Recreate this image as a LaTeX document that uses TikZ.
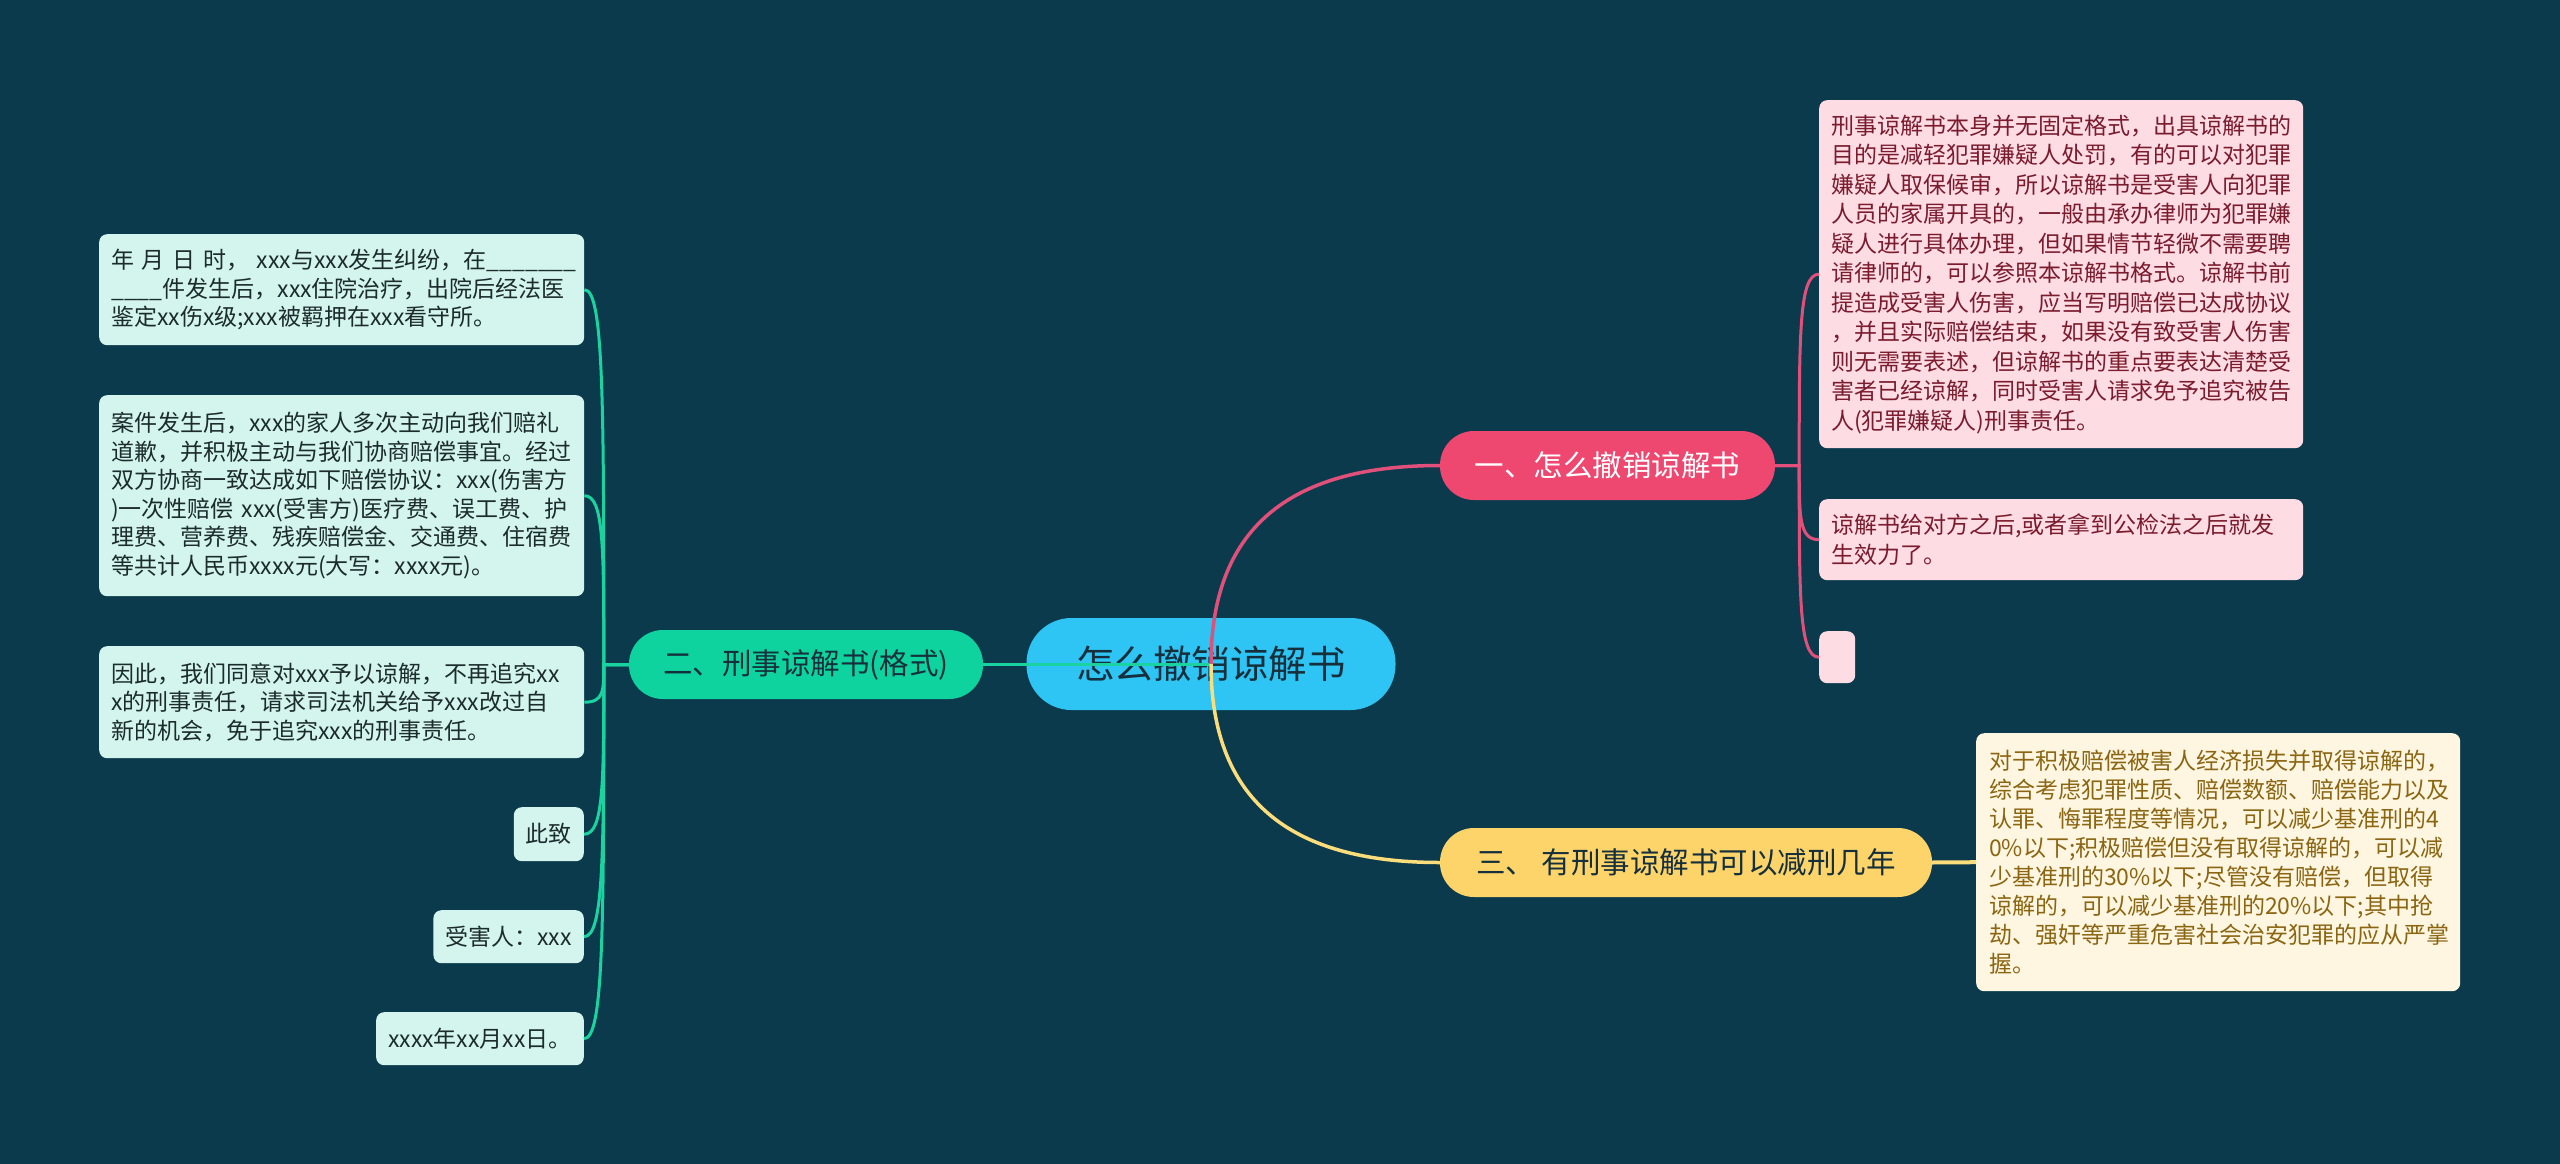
\documentclass[tikz,border=0pt]{standalone}
\usepackage{fontspec}
\setmainfont{Noto Sans CJK SC}
\usetikzlibrary{calc}
\definecolor{bg}{HTML}{0B3A4C}
\definecolor{cblue}{HTML}{2EC4F3}
\definecolor{ctext}{HTML}{15303C}
\definecolor{pinkmain}{HTML}{EE4870}
\definecolor{greenmain}{HTML}{0FD39E}
\definecolor{yellowmain}{HTML}{FDD46A}
\definecolor{leafgfill}{HTML}{D3F5EE}
\definecolor{leafpfill}{HTML}{FDDCE4}
\definecolor{leafyfill}{HTML}{FEF6E0}
\definecolor{leafgtext}{HTML}{1C2B2B}
\definecolor{leafptext}{HTML}{7A1B2E}
\definecolor{leafytext}{HTML}{8A6512}
\definecolor{gconn}{HTML}{19D3A1}
\definecolor{pconn}{HTML}{E0507A}
\definecolor{yconn}{HTML}{FCDD7C}
\begin{document}
\begin{tikzpicture}[x=1pt,y=-1pt,
  centernode/.style={fill=cblue, rounded corners=45pt, minimum width=369pt, minimum height=92pt,
    inner sep=0pt, text=ctext, font=\fontsize{38.5}{42}\selectfont},
  branchnode/.style={rounded corners=34pt, minimum height=69pt, inner sep=0pt,
    font=\fontsize{29.5}{33}\selectfont},
  leafbase/.style={rounded corners=8pt, inner xsep=12pt, inner ysep=0pt, align=left},
  leafg/.style={leafbase, fill=leafgfill, text=leafgtext, font=\fontsize{23}{28.5}\selectfont},
  leafp/.style={leafbase, fill=leafpfill, text=leafptext, font=\fontsize{23}{29.5}\selectfont},
  leafy/.style={leafbase, fill=leafyfill, text=leafytext, font=\fontsize{23}{29}\selectfont},
  gline/.style={draw=gconn, line width=3pt},
  pline/.style={draw=pconn, line width=3pt},
  yline/.style={draw=yconn, line width=3.5pt}]
\fill[bg] (0,0) rectangle (2560,1164);
\useasboundingbox (0,0) rectangle (2560,1164);

% center and branches
\node[centernode] (c) at (1211,664) {怎么撤销谅解书};
\node[branchnode, fill=pinkmain, text=white, minimum width=335pt] (n1) at (1607.5,465.5) {一、怎么撤销谅解书};
\node[branchnode, fill=greenmain, text=ctext, minimum width=354pt] (n2) at (806,664.5) {二、刑事谅解书(格式)};
\node[branchnode, fill=yellowmain, text=ctext, minimum width=492pt] (n3) at (1686,862.5) {三、~有刑事谅解书可以减刑几年};

% left leaves
\node[leafg, anchor=north west, text width=461pt, minimum height=111pt] (L1) at (99,234)
  {\mbox{年~月~日~时，~xxx与xxx发生纠纷，在\_\_\_\_\_\_\_}\\\_\_\_\_件发生后，xxx住院治疗，出院后经法医\\鉴定xx伤x级;xxx被羁押在xxx看守所。};
\node[leafg, anchor=north west, text width=461pt, minimum height=201pt] (L2) at (99,395)
  {案件发生后，xxx的家人多次主动向我们赔礼\\道歉，并积极主动与我们协商赔偿事宜。经过\\双方协商一致达成如下赔偿协议：xxx(伤害方\\\mbox{)一次性赔偿~xxx(受害方)医疗费、误工费、护}\\理费、营养费、残疾赔偿金、交通费、住宿费\\等共计人民币xxxx元(大写：xxxx元)。};
\node[leafg, anchor=north west, text width=461pt, minimum height=112pt] (L3) at (99,646)
  {因此，我们同意对xxx予以谅解，不再追究xx\\x的刑事责任，请求司法机关给予xxx改过自\\新的机会，免于追究xxx的刑事责任。};
\node[leafg, anchor=north east, minimum height=54pt] (L4) at (584,807) {此致};
\node[leafg, anchor=north east, minimum height=53pt] (L5) at (584,910) {受害人：xxx};
\node[leafg, anchor=north east, minimum height=53pt] (L6) at (584,1012) {xxxx年xx月xx日。};

% right leaves
\node[leafp, anchor=north west, text width=460pt, minimum height=348pt] (R1) at (1819,100)
  {刑事谅解书本身并无固定格式，出具谅解书的\\目的是减轻犯罪嫌疑人处罚，有的可以对犯罪\\嫌疑人取保候审，所以谅解书是受害人向犯罪\\人员的家属开具的，一般由承办律师为犯罪嫌\\疑人进行具体办理，但如果情节轻微不需要聘\\请律师的，可以参照本谅解书格式。谅解书前\\提造成受害人伤害，应当写明赔偿已达成协议\\，并且实际赔偿结束，如果没有致受害人伤害\\则无需要表述，但谅解书的重点要表达清楚受\\害者已经谅解，同时受害人请求免予追究被告\\人(犯罪嫌疑人)刑事责任。};
\node[leafp, anchor=north west, text width=460pt, minimum height=81pt] (R2) at (1819,499)
  {谅解书给对方之后,或者拿到公检法之后就发\\生效力了。};
\node[leafp, anchor=north west, inner xsep=0pt, minimum width=36pt, minimum height=52pt] (R3) at (1819,631) {};
\node[leafy, anchor=north west, inner xsep=13pt, text width=458pt, minimum height=258pt] (R4) at (1976,733)
  {对于积极赔偿被害人经济损失并取得谅解的，\\综合考虑犯罪性质、赔偿数额、赔偿能力以及\\认罪、悔罪程度等情况，可以减少基准刑的4\\0\%以下;积极赔偿但没有取得谅解的，可以减\\少基准刑的30\%以下;尽管没有赔偿，但取得\\谅解的，可以减少基准刑的20\%以下;其中抢\\劫、强奸等严重危害社会治安犯罪的应从严掌\\握。};

% connectors
\coordinate (J2) at ($(n2.west)+(-25,0)$);
\foreach \lf in {L1,L2,L3,L4,L5,L6}
  \draw[gline] (n2.west) -- (J2) .. controls ($(J2)!0.7!(J2|-\lf.east)$) and (J2|-\lf.east) .. (\lf.east);
\coordinate (J1) at ($(n1.east)+(24,0)$);
\foreach \lf in {R1,R2,R3}
  \draw[pline] (n1.east) -- (J1) .. controls ($(J1)!0.7!(J1|-\lf.west)$) and (J1|-\lf.west) .. (\lf.west);
\draw[gline] (n2.east) -- (n2.east-|c.center);
\draw[pline, line width=3.5pt] (c.center) .. controls ($(c.center)!0.72!(c.center|-n1.west)$) and ($(c.center|-n1.west)!0.38!(n1.west)$) .. (n1.west);
\draw[yline] (c.center) .. controls ($(c.center)!0.72!(c.center|-n3.west)$) and ($(c.center|-n3.west)!0.38!(n3.west)$) .. (n3.west);
\draw[yline, line width=4pt] (n3.east) -- (R4.west);
\end{tikzpicture}
\end{document}
